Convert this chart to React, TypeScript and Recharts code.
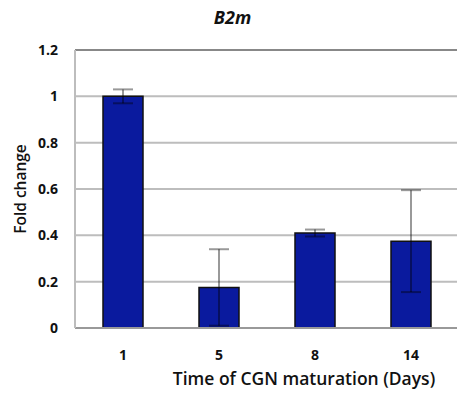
import { BarChart, Bar, XAxis, YAxis, CartesianGrid, ErrorBar, ReferenceLine, Label } from 'recharts';

// B2m expression across CGN maturation
const days = ['1', '5', '8', '14'];
const foldChange = [1.0, 0.175, 0.41, 0.375];
const foldError = [0.03, 0.165, 0.015, 0.22];
const yTicks = [0, 0.2, 0.4, 0.6, 0.8, 1, 1.2];

const data = days.map((day, i) => ({ day, value: foldChange[i], err: foldError[i] }));

const FONT = '"Open Sans", sans-serif';

const YTitle = ({ viewBox }: any) => {
  const cx = 20;
  const cy = viewBox.y + viewBox.height / 2;
  return (
    <text
      x={cx}
      y={cy}
      transform={`rotate(-90, ${cx}, ${cy})`}
      textAnchor="middle"
      dominantBaseline="central"
      fontFamily={FONT}
      fontWeight={600}
      fontSize={15.5}
      fill="#111"
    >
      Fold change
    </text>
  );
};

export default function App() {
  return (
    <div style={{ position: 'absolute', left: 0, top: 0, width: 457, height: 401, overflow: 'hidden', background: '#fff' }}>
      <div
        style={{
          position: 'absolute',
          top: 5,
          left: 0,
          width: 457,
          textAlign: 'center',
          paddingLeft: 4,
          fontFamily: FONT,
          fontWeight: 700,
          fontStyle: 'italic',
          fontSize: 18,
          color: '#111',
        }}
      >
        B2m
      </div>
      <BarChart width={460} height={401} data={data} margin={{ top: 50, right: 1, bottom: 43, left: 0 }}>
        <CartesianGrid horizontal vertical={false} stroke="#bdbdbd" strokeWidth={2} />
        <XAxis
          dataKey="day"
          height={30}
          tickLine={false}
          axisLine={{ stroke: '#999', strokeWidth: 2 }}
          tickMargin={16}
          tick={{ fontFamily: FONT, fontWeight: 700, fontSize: 14, fill: '#111' }}
        >
          <Label
            value="Time of CGN maturation (Days)"
            position="bottom"
            offset={15}
            dx={37}
            style={{ fontFamily: FONT, fontWeight: 600, fontSize: 17.5, fill: '#111' }}
          />
        </XAxis>
        <YAxis
          width={75}
          domain={[0, 1.2]}
          ticks={yTicks}
          interval={0}
          tickLine={false}
          axisLine={{ stroke: '#bdbdbd', strokeWidth: 2 }}
          tickMargin={11}
          tickFormatter={(v: number) => String(v)}
          tick={{ fontFamily: FONT, fontWeight: 700, fontSize: 14, fill: '#111' }}
        >
          <Label content={<YTitle />} />
        </YAxis>
        <ReferenceLine y={1.2} stroke="#888" strokeWidth={2} />
        <Bar dataKey="value" fill="#0a1a9e" stroke="#111" strokeWidth={1.5} barSize={40} isAnimationActive={false}>
          <ErrorBar dataKey="err" width={10} stroke="rgba(0,0,0,0.4)" strokeWidth={2} direction="y" />
        </Bar>
      </BarChart>
    </div>
  );
}
